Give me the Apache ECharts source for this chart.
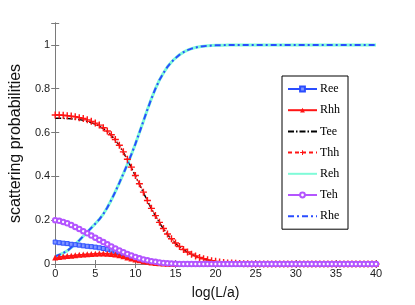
<!DOCTYPE html>
<html>
<head>
<meta charset="utf-8">
<script src="https://cdn.jsdelivr.net/npm/echarts@6/dist/echarts.min.js"></script>
<style>html,body{margin:0;padding:0;background:#fff}#c{width:415px;height:305px}</style>
</head>
<body>
<div id="c"></div>
<script>
var xs = [0,0.5,1,1.5,2,2.5,3,3.5,4,4.5,5,5.5,6,6.5,7,7.5,8,8.5,9,9.5,10,10.5,11,11.5,12,12.5,13,13.5,14,14.5,15,15.5,16,16.5,17,17.5,18,18.5,19,19.5,20,20.5,21,21.5,22,22.5,23,23.5,24,24.5,25,25.5,26,26.5,27,27.5,28,28.5,29,29.5,30,30.5,31,31.5,32,32.5,33,33.5,34,34.5,35,35.5,36,36.5,37,37.5,38,38.5,39,39.5,40];

var Ree = [0.1,0.097,0.095,0.093,0.09,0.088,0.086,0.083,0.081,0.079,0.077,0.074,0.071,0.067,0.063,0.058,0.053,0.047,0.04,0.034,0.028,0.023,0.018,0.014,0.01,0.007,0.005,0.003,0.002,0.001,0.001,
0,0,0,0,0,0,0,0,0,0,0,0,0,0,0,0,0,0,0,0,0,0,0,0,0,0,0,0,0,0,0,0,0,0,0,0,0,0,0,0,0,0,0,0,0,0,0,0,0,0];

var Rhh = [0.03,0.032,0.034,0.036,0.038,0.04,0.042,0.043,0.045,0.046,0.047,0.048,0.048,0.047,0.046,0.043,0.04,0.035,0.03,0.025,0.021,0.017,0.013,0.01,0.007,0.005,0.003,0.002,0.001,0.001,
0,0,0,0,0,0,0,0,0,0,0,0,0,0,0,0,0,0,0,0,0,0,0,0,0,0,0,0,0,0,0,0,0,0,0,0,0,0,0,0,0,0,0,0,0,0,0,0,0,0,0];

var Tee = [0.665,0.665,0.665,0.664,0.663,0.661,0.659,0.656,0.651,0.645,0.638,0.629,0.618,0.604,0.587,0.566,0.54,0.51,0.476,0.44,0.402,0.364,0.326,0.288,0.252,0.219,0.188,0.16,0.135,0.113,0.094,0.078,0.065,0.054,0.044,0.036,0.029,0.023,0.018,0.014,0.011,0.008,0.006,0.005,0.004,0.003,0.002,0.001,0.001,
0,0,0,0,0,0,0,0,0,0,0,0,0,0,0,0,0,0,0,0,0,0,0,0,0,0,0,0,0,0,0,0];

var Thh = [0.68,0.68,0.679,0.677,0.675,0.672,0.668,0.664,0.658,0.651,0.643,0.634,0.622,0.607,0.59,0.568,0.542,0.512,0.478,0.442,0.404,0.366,0.328,0.29,0.254,0.221,0.19,0.162,0.137,0.115,0.096,0.08,0.066,0.055,0.045,0.037,0.03,0.024,0.019,0.015,0.012,0.009,0.007,0.005,0.004,0.003,0.002,0.001,0.001,
0,0,0,0,0,0,0,0,0,0,0,0,0,0,0,0,0,0,0,0,0,0,0,0,0,0,0,0,0,0,0,0];

var Reh = [0.035,0.042,0.05,0.06,0.075,0.09,0.108,0.127,0.146,0.165,0.184,0.204,0.228,0.258,0.292,0.33,0.37,0.412,0.455,0.5,0.548,0.6,0.652,0.705,0.755,0.8,0.84,0.872,0.9,0.922,0.94,0.955,0.967,0.976,0.983,0.988,0.992,0.994,0.996,0.997,0.998,0.999,0.999,
1,1,1,1,1,1,1,1,1,1,1,1,1,1,1,1,1,1,1,1,1,1,1,1,1,1,1,1,1,1,1,1,1,1,1,1,1,1];

var Teh = [0.2,0.197,0.192,0.186,0.178,0.169,0.16,0.15,0.14,0.13,0.12,0.11,0.1,0.09,0.08,0.071,0.062,0.054,0.046,0.039,0.032,0.026,0.021,0.017,0.013,0.01,0.007,0.005,0.003,0.002,0.001,
0,0,0,0,0,0,0,0,0,0,0,0,0,0,0,0,0,0,0,0,0,0,0,0,0,0,0,0,0,0,0,0,0,0,0,0,0,0,0,0,0,0,0,0,0,0,0,0,0,0];

var Rhe = [0.035,0.042,0.05,0.06,0.075,0.09,0.108,0.127,0.146,0.165,0.184,0.204,0.228,0.258,0.292,0.33,0.37,0.412,0.455,0.5,0.548,0.6,0.652,0.705,0.755,0.8,0.84,0.872,0.9,0.922,0.94,0.955,0.967,0.976,0.983,0.988,0.992,0.994,0.996,0.997,0.998,0.999,0.999,
1,1,1,1,1,1,1,1,1,1,1,1,1,1,1,1,1,1,1,1,1,1,1,1,1,1,1,1,1,1,1,1,1,1,1,1,1,1];

var legendNames = ['Ree','Rhh','Tee','Thh','Reh','Teh','Rhe'];
var xTicks = [0,5,10,15,20,25,30,35,40];
var yTicks = [0,0.2,0.4,0.6,0.8,1];

function pairs(ys){ return xs.map(function(x,i){ return [x, ys[i]]; }); }

var BLUE = '#2a4dff', RED = '#ff1414', PURPLE = '#b455ff', CYAN = '#7ffbd8';
var PLUS = 'path://M4,0H6V4H10V6H6V10H4V6H0V4H4Z';
var axisCol = '#7a7a7a';
var labelStyle = {fontFamily:"'Liberation Sans Narrow', 'Liberation Sans'", fontSize:11, color:'#222'};
var noSymbol = {color:'rgba(0,0,0,0)', borderWidth:0, borderColor:'rgba(0,0,0,0)'};

var chart = echarts.init(document.getElementById('c'), null, {renderer:'canvas'});
chart.setOption({
  animation: false,
  backgroundColor: '#fff',
  grid: {left:54, right:39, top:23, bottom:34},
  legend: {
    orient:'vertical', left:282, top:76,
    padding:[7,8,7,5], itemGap:9.2, itemWidth:29, itemHeight:6,
    borderColor:'#000', borderWidth:1, backgroundColor:'#fff',
    textStyle:{fontFamily:'Liberation Serif', fontSize:12, color:'#000', padding:[0,0,0,-2]},
    data: legendNames.map(function(n){
      if (n==='Tee' || n==='Reh' || n==='Rhe') return {name:n, itemStyle:noSymbol};
      return {name:n};
    })
  },
  xAxis: [{
    type:'value', min:0, max:40, interval:5,
    name:'log(L/a)', nameLocation:'middle', nameGap:22,
    nameTextStyle:{fontFamily:'Liberation Sans', fontSize:14, color:'#111'},
    axisLine:{show:true, lineStyle:{color:axisCol, width:1}},
    axisTick:{show:true, inside:true, length:4, lineStyle:{color:axisCol}},
    axisLabel:Object.assign({margin:4, formatter:function(v){return xTicks.indexOf(v)>=0? String(v):'';}}, labelStyle),
    splitLine:{show:false}
  },{
    type:'value', min:0, max:40, interval:5, position:'top',
    axisLine:{show:true, lineStyle:{color:axisCol, width:1}},
    axisTick:{show:true, inside:true, length:4, lineStyle:{color:axisCol}},
    axisLabel:{show:false}, splitLine:{show:false}
  }],
  yAxis: [{
    type:'value', min:0, max:1.1, interval:0.2,
    name:'scattering probabilities', nameLocation:'middle', nameGap:27,
    nameTextStyle:{fontFamily:'Liberation Sans', fontSize:16, color:'#111'},
    axisLine:{show:true, lineStyle:{color:axisCol, width:1}},
    axisTick:{show:true, inside:true, length:4, lineStyle:{color:axisCol}},
    axisLabel:Object.assign({margin:5, formatter:function(v){
      for (var i=0;i<yTicks.length;i++){ if (Math.abs(v-yTicks[i])<1e-6) return String(yTicks[i]); }
      return '';
    }}, labelStyle),
    splitLine:{show:false}
  },{
    type:'value', min:0, max:1.1, interval:0.2, position:'right',
    axisLine:{show:true, lineStyle:{color:axisCol, width:1}},
    axisTick:{show:true, inside:true, length:4, lineStyle:{color:axisCol}},
    axisLabel:{show:false}, splitLine:{show:false}
  }],
  series: [
    {name:'Ree', type:'line', data:pairs(Ree), showAllSymbol:true,
     symbol:'rect', symbolSize:4,
     itemStyle:{color:'#7f95ff', borderColor:BLUE, borderWidth:1},
     lineStyle:{color:BLUE, width:1.5}},
    {name:'Rhh', type:'line', data:pairs(Rhh), showAllSymbol:true,
     symbol:'triangle', symbolSize:6,
     itemStyle:{color:RED},
     lineStyle:{color:RED, width:1.5}},
    {name:'Tee', type:'line', data:pairs(Tee), symbol:'none',
     itemStyle:{color:'#000'},
     lineStyle:{color:'#000', width:1.5, type:[6,2,1.5,2]}},
    {name:'Thh', type:'line', data:pairs(Thh), showAllSymbol:true,
     symbol:PLUS, symbolSize:7,
     itemStyle:{color:RED},
     lineStyle:{color:RED, width:1, type:[4,3]}},
    {name:'Reh', type:'line', data:pairs(Reh), symbol:'none',
     itemStyle:{color:CYAN},
     lineStyle:{color:CYAN, width:3}},
    {name:'Teh', type:'line', data:pairs(Teh), showAllSymbol:true,
     symbol:'emptyCircle', symbolSize:4.5,
     itemStyle:{color:PURPLE, borderColor:PURPLE, borderWidth:1},
     lineStyle:{color:PURPLE, width:1.5}},
    {name:'Rhe', type:'line', data:pairs(Rhe), symbol:'none',
     itemStyle:{color:BLUE},
     lineStyle:{color:BLUE, width:2, type:[6,3,2,3]}}
  ]
});
</script>
</body>
</html>
